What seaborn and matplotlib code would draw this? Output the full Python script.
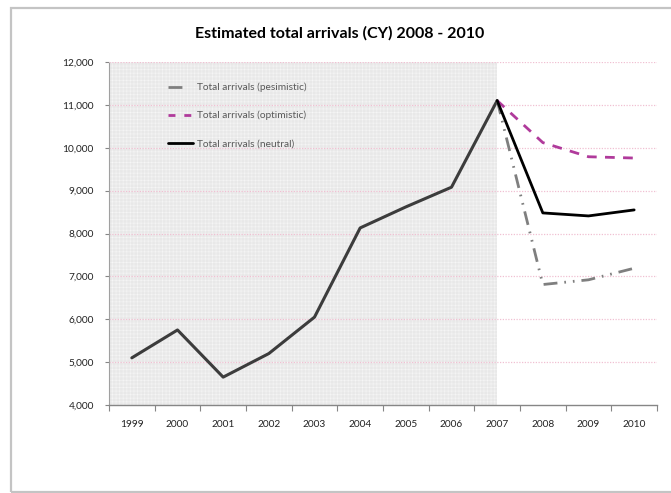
import matplotlib
matplotlib.use("Agg")
import matplotlib.pyplot as plt
import matplotlib.ticker as mticker
from matplotlib.patches import Rectangle
from matplotlib.lines import Line2D
import seaborn as sns
import pandas as pd

# Calendar years and arrivals
years = ["1999", "2000", "2001", "2002", "2003", "2004", "2005", "2006", "2007", "2008", "2009", "2010"]
history = [5100, 5750, 4650, 5200, 6050, 8130, 8620, 9080, 11100]
forecast_years = ["2007", "2008", "2009", "2010"]
pessimistic = [11100, 6810, 6920, 7190]
optimistic = [11100, 10120, 9790, 9760]
neutral = [11100, 8480, 8410, 8550]
y_ticks = [4000, 5000, 6000, 7000, 8000, 9000, 10000, 11000, 12000]

title = "Estimated total arrivals (CY) 2008 - 2010"
labels = ["Total arrivals (pesimistic)", "Total arrivals (optimistic)", "Total arrivals (neutral)"]

sns.set_theme(style="white")
plt.rcParams["font.family"] = ["Lato", "DejaVu Sans"]
plt.rcParams["hatch.linewidth"] = 0.25
plt.rcParams["hatch.color"] = "#e2e2e2"

pos = {y: i for i, y in enumerate(years)}
hist_df = pd.DataFrame({"x": [pos[y] for y in years[:len(history)]], "v": history})
fc_x = [pos[y] for y in forecast_years]
fc_df = pd.DataFrame({
    "x": fc_x * 3,
    "v": pessimistic + optimistic + neutral,
    "scenario": [labels[0]] * 4 + [labels[1]] * 4 + [labels[2]] * 4,
})

fig = plt.figure(figsize=(6.71, 4.93), dpi=100)
ax = fig.add_axes([109 / 671, 1 - 405 / 493, 548 / 671, 343 / 493])

# Chart frame
fig.patches.append(Rectangle((11 / 671, 1 - 492 / 493), 1.2, 484 / 493,
                             transform=fig.transFigure, fill=False,
                             edgecolor="#c4c4c4", lw=1.6, zorder=0))

ax.set_xlim(-0.5, len(years) - 0.5)
ax.set_ylim(4000, 12000)

# Shaded observed period
ax.add_patch(Rectangle((-0.5, 4000), pos["2007"] + 0.5, 8000,
                       facecolor="#f7f7f7", edgecolor="#e2e2e2", hatch="+" * 12,
                       lw=0, zorder=1))

# Gridlines
for t in y_ticks[1:]:
    ax.axhline(t, color="#f0c0d2", lw=0.9, ls=(0, (1, 1.2)), zorder=1.5)

sns.lineplot(data=hist_df, x="x", y="v", color="#3c3c3c", lw=2.2, ax=ax,
             legend=False, zorder=3)

styles = {
    labels[0]: dict(color="#7f7f7f", ls=(0, (5, 2.5, 0.6, 2.5, 0.6, 2.5))),
    labels[1]: dict(color="#b03a9b", ls=(0, (3.5, 3))),
    labels[2]: dict(color="#000000", ls="-"),
}
for lab in labels:
    sub = fc_df[fc_df["scenario"] == lab]
    sns.lineplot(data=sub, x="x", y="v", ax=ax, lw=2, zorder=4, **styles[lab])

handles = [
    Line2D([], [], color="#7f7f7f", lw=2, ls=(0, (5, 20))),
    Line2D([], [], color="#b03a9b", lw=2, ls=(0, (2.5, 3.2))),
    Line2D([], [], color="#000000", lw=2, ls="-"),
]
leg = ax.legend(handles, labels, loc="upper left", bbox_to_anchor=(0.098, 0.955),
                frameon=False, fontsize=7.3, labelspacing=1.85, handlelength=2.5,
                handletextpad=0.35, borderpad=0)
for t in leg.get_texts():
    t.set_color("#595959")

# Axes styling
for s in ["top", "right"]:
    ax.spines[s].set_visible(False)
ax.spines["left"].set_color("#a0a0a0")
ax.spines["left"].set_linestyle((0, (2, 1)))
ax.spines["left"].set_linewidth(0.8)
ax.spines["bottom"].set_color("#868686")
ax.spines["bottom"].set_linewidth(1)

ax.set_yticks(y_ticks)
ax.yaxis.set_major_formatter(mticker.FuncFormatter(lambda v, p: f"{int(v):,}"))
ax.tick_params(axis="y", length=3, width=0.8, color="#868686", labelsize=7.3,
               labelcolor="#222222", pad=8, left=True)
ax.set_xticks([i - 0.5 for i in range(len(years) + 1)])
ax.set_xticklabels([])
ax.set_xticks(range(len(years)), minor=True)
ax.set_xticklabels(years, minor=True)
ax.tick_params(axis="x", which="major", length=4, width=0.8, color="#868686",
               direction="out", bottom=True)
ax.tick_params(axis="x", which="minor", length=0, labelsize=7.3,
               labelcolor="#222222", pad=11)
ax.set_xlabel("")
ax.set_ylabel("")

fig.text(340 / 671, 1 - 33 / 493, title, ha="center", va="center",
         fontsize=11.5, fontweight="bold", color="#000000")

fig.savefig("out.png", dpi=100)
